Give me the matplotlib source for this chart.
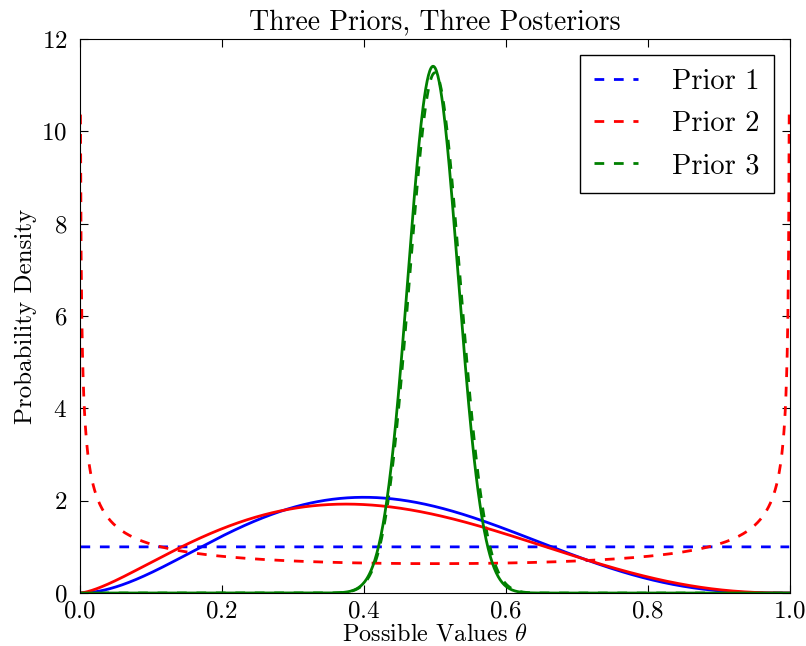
import math
import numpy as np
import matplotlib
matplotlib.use('Agg')
import matplotlib.pyplot as plt

plt.rcParams['font.family'] = 'serif'
plt.rcParams['font.serif'] = ['cmr10']
plt.rcParams['mathtext.fontset'] = 'cm'
plt.rcParams['axes.formatter.use_mathtext'] = True
plt.rcParams['xtick.direction'] = 'in'
plt.rcParams['ytick.direction'] = 'in'
plt.rcParams['xtick.top'] = True
plt.rcParams['ytick.right'] = True

# Beta prior parameters (alpha, beta) and the observed data
prior_labels = ['Prior 1', 'Prior 2', 'Prior 3']
prior_alpha = [1.0, 0.5, 100.0]
prior_beta = [1.0, 0.5, 100.0]
colors = ['b', 'r', 'g']
successes = 2
trials = 5


def beta_pdf(x, a, b):
    logB = math.lgamma(a) + math.lgamma(b) - math.lgamma(a + b)
    with np.errstate(divide='ignore', invalid='ignore'):
        return np.exp((a - 1) * np.log(x) + (b - 1) * np.log(1 - x) - logB)


theta = np.linspace(0, 1, 1060)

fig = plt.figure(figsize=(8.06, 6.46), dpi=100)
ax = fig.add_axes([0.099, 0.082, 0.881, 0.8576])

for lab, a, b, c in zip(prior_labels, prior_alpha, prior_beta, colors):
    ax.plot(theta, beta_pdf(theta, a, b), color=c, ls='--', dashes=(3.5, 3.5),
            lw=2, label=lab)

for a, b, c in zip(prior_alpha, prior_beta, colors):
    post = beta_pdf(theta, a + successes, b + trials - successes)
    ax.plot(theta, post, color=c, ls='-', lw=2)

ax.set_xlim(0, 1)
ax.set_ylim(0, 12)
ax.tick_params(labelsize=18, length=6)
ax.tick_params(axis='x', pad=5)
ax.tick_params(axis='y', pad=9)
ax.set_title('Three Priors, Three Posteriors', fontsize=20, pad=7)
ax.set_xlabel(r'Possible Values $\theta$', fontsize=17.5, labelpad=1)
ax.set_ylabel('Probability Density', fontsize=18, labelpad=3)

leg = ax.legend(loc='upper right', fontsize=20.5, fancybox=False, framealpha=1,
                handlelength=1.55, handletextpad=1.2, labelspacing=0.55,
                borderpad=0.5, borderaxespad=0.55)
leg.get_frame().set_edgecolor('black')

fig.savefig('out.png', dpi=100)
